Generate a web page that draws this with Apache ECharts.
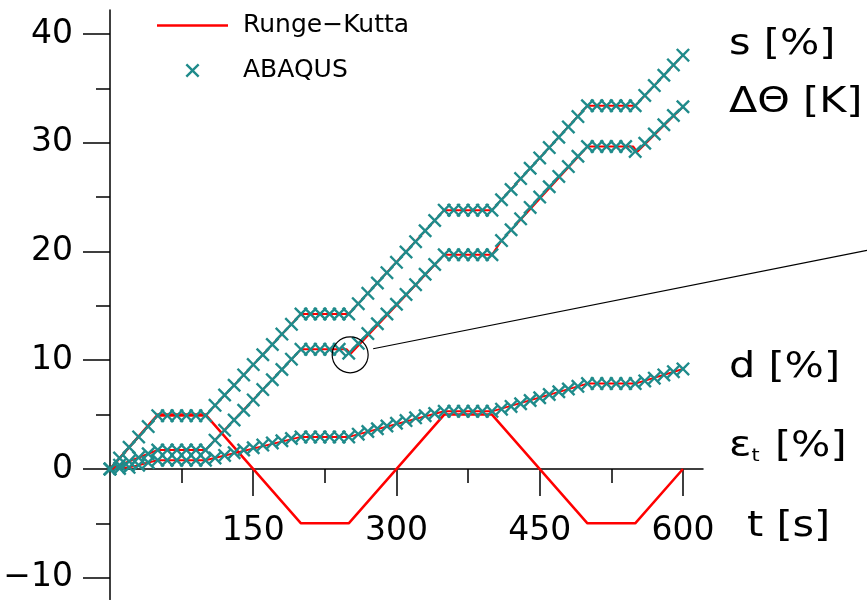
<!DOCTYPE html>
<html>
<head>
<meta charset="utf-8">
<script src="https://cdn.jsdelivr.net/npm/echarts@6/dist/echarts.min.js"></script>
<style>
  html, body { margin: 0; padding: 0; background: #fff; }
  #chart { width: 867px; height: 600px; }
</style>
</head>
<body>
<div id="chart"></div>
<script>
// Sample times of the ABAQUS solution [s]
const tAbaqus = [0, 10, 20, 30, 40, 50, 60, 70, 80, 90, 100,
  110, 120, 130, 140, 150, 160, 170, 180, 190, 200,
  210, 220, 230, 240, 250, 260, 270, 280, 290, 300,
  310, 320, 330, 340, 350, 360, 370, 380, 390, 400,
  410, 420, 430, 440, 450, 460, 470, 480, 490, 500,
  510, 520, 530, 540, 550, 560, 570, 580, 590, 600];

// s [%] (ABAQUS)
const sAbaqus = [0, 1.0, 2.0, 2.95, 3.9, 4.9, 4.9, 4.9, 4.9, 4.9, 4.9,
  5.85, 6.8, 7.7, 8.65, 9.6, 10.5, 11.45, 12.4, 13.3, 14.25,
  14.25, 14.25, 14.25, 14.25, 14.25, 15.2, 16.15, 17.1, 18.05, 19.0,
  19.95, 20.9, 21.9, 22.85, 23.8, 23.8, 23.8, 23.8, 23.8, 23.8,
  24.75, 25.7, 26.7, 27.65, 28.6, 29.55, 30.5, 31.45, 32.4, 33.4,
  33.4, 33.4, 33.4, 33.4, 33.4, 34.35, 35.25, 36.2, 37.15, 38.05];

// ΔΘ [K] (ABAQUS)
const thetaAbaqus = [0, 0.35, 0.7, 1.05, 1.4, 1.75, 1.75, 1.75, 1.75, 1.75, 1.75,
  2.65, 3.55, 4.5, 5.4, 6.35, 7.3, 8.2, 9.15, 10.1, 11.0,
  11.0, 11.0, 11.0, 11.0, 10.65, 11.55, 12.45, 13.35, 14.25, 15.15,
  16.05, 16.95, 17.9, 18.8, 19.7, 19.7, 19.7, 19.7, 19.7, 19.7,
  21.0, 22.0, 23.0, 24.05, 25.0, 25.95, 26.9, 27.8, 28.75, 29.65,
  29.65, 29.65, 29.65, 29.65, 29.2, 29.95, 30.8, 31.65, 32.5, 33.3];

// d [%] (ABAQUS)
const dAbaqus = [0, 0.05, 0.15, 0.35, 0.6, 0.8, 0.8, 0.8, 0.8, 0.8, 0.8,
  1.02, 1.25, 1.5, 1.75, 1.95, 2.2, 2.4, 2.6, 2.8, 2.95,
  2.95, 2.95, 2.95, 2.95, 2.95, 3.2, 3.45, 3.7, 3.95, 4.2,
  4.45, 4.7, 4.9, 5.1, 5.3, 5.3, 5.3, 5.3, 5.3, 5.3,
  5.5, 5.75, 6.0, 6.3, 6.55, 6.85, 7.1, 7.35, 7.6, 7.85,
  7.85, 7.85, 7.85, 7.85, 7.85, 8.1, 8.35, 8.65, 8.95, 9.2];

// Runge-Kutta solution, given at its break points
const epsTime = [0, 50, 100, 200, 250, 350, 400, 500, 550, 600];
const epsRk   = [0, 5, 5, -5, -5, 5, 5, -5, -5, 0];
const sRkTime = [0, 50, 100, 200, 250, 350, 400, 500, 550, 600];
const sRk     = [0, 4.9, 4.9, 14.25, 14.25, 23.8, 23.8, 33.4, 33.4, 38.05];
const thetaRkTime = [0, 50, 100, 200, 248, 252, 350, 400, 410, 500, 548, 552, 600];
const thetaRk     = [0, 1.75, 1.75, 11.0, 11.0, 10.6, 19.7, 19.7, 21.0, 29.65, 29.65, 29.15, 33.3];
const dRkTime = [0, 10, 20, 30, 40, 50, 100, 200, 250, 350, 400, 500, 550, 600];
const dRk     = [0, 0.05, 0.15, 0.35, 0.6, 0.8, 0.8, 2.95, 2.95, 5.3, 5.3, 7.85, 7.85, 9.2];

// Axis ticks
const xTicks = [150, 300, 450, 600];
const xMinorTicks = [75, 225, 375, 525];
const yTicks = [-10, 0, 10, 20, 30, 40];
const yMinorTicks = [-5, 5, 15, 25, 35];

// Value ranges of the plot area
const xMin = 0, xMax = 621;
const yMin = -12, yMax = 42.2;

const RED = '#ff0000';
const TEAL = '#1f8b8b';
const FONT = 'DejaVu Sans';
const CROSS = 'path://M0,12L12,0L50,38L88,0L100,12L62,50L100,88L88,100L50,62L12,100L0,88L38,50Z';
const DASH = 'path://M0,0L71,0L71,2.5L0,2.5Z';

// Plot area in pixels
const GRID = { left: 110, top: 10, width: 593, height: 589.5 };
// The time axis sits on the zero line, so shift it up from the bottom edge of the plot area
const xAxisShift = -GRID.height * (0 - yMin) / (yMax - yMin);

const zip = (ts, vs) => ts.map((t, i) => [t, vs[i]]);

const rkSeries = (data, width) => ({
  type: 'line', name: 'Runge−Kutta', data,
  symbol: 'none', showSymbol: false,
  lineStyle: { color: RED, width }, itemStyle: { color: RED },
  z: 2, silent: true
});
const abaqusSeries = (data) => ({
  type: 'scatter', name: 'ABAQUS', data,
  symbol: CROSS, symbolSize: 14,
  itemStyle: { color: TEAL, opacity: 1 },
  z: 3, silent: true
});

const axisLineStyle = { color: '#000', width: 1.5 };
const chart = echarts.init(document.getElementById('chart'), null, { renderer: 'canvas' });

chart.setOption({
  animation: false,
  backgroundColor: '#fff',
  grid: Object.assign({ outerBoundsMode: 'none', containLabel: false }, GRID),
  legend: {
    orient: 'vertical', left: 152, top: 8,
    itemWidth: 71, itemHeight: 14, itemGap: 20,
    symbolKeepAspect: true,
    textStyle: { fontFamily: FONT, fontSize: 25, color: '#000', padding: [0, 0, 0, 10] },
    data: [{ name: 'Runge−Kutta', icon: DASH }, { name: 'ABAQUS', icon: CROSS }]
  },
  xAxis: [{
    type: 'value', min: xMin, max: xMax, position: 'bottom', offset: xAxisShift,
    axisLine: { onZero: false, lineStyle: axisLineStyle },
    axisTick: { show: true, length: 27, customValues: xTicks, lineStyle: axisLineStyle },
    axisLabel: { customValues: xTicks, margin: 46, fontFamily: FONT, fontSize: 33, color: '#000' },
    splitLine: { show: false }
  }, {
    type: 'value', min: xMin, max: xMax, position: 'bottom', offset: xAxisShift,
    axisLine: { show: false, onZero: false },
    axisTick: { show: true, length: 14, customValues: xMinorTicks, lineStyle: axisLineStyle },
    axisLabel: { show: false },
    splitLine: { show: false }
  }],
  yAxis: [{
    type: 'value', min: yMin, max: yMax,
    axisLine: { show: true, onZero: false, lineStyle: axisLineStyle },
    axisTick: { show: true, length: 27, customValues: yTicks, lineStyle: axisLineStyle },
    axisLabel: {
      customValues: yTicks, margin: 37, fontFamily: FONT, fontSize: 33, color: '#000',
      formatter: v => (v < 0 ? '−' + Math.abs(v) : String(v))
    },
    splitLine: { show: false }
  }, {
    type: 'value', min: yMin, max: yMax, position: 'left',
    axisLine: { show: false, onZero: false },
    axisTick: { show: true, length: 14, customValues: yMinorTicks, lineStyle: axisLineStyle },
    axisLabel: { show: false },
    splitLine: { show: false }
  }],
  series: [
    rkSeries(zip(epsTime, epsRk), 2.5),
    rkSeries(zip(dRkTime, dRk), 2),
    rkSeries(zip(thetaRkTime, thetaRk), 2),
    rkSeries(zip(sRkTime, sRk), 2),
    abaqusSeries(zip(tAbaqus, dAbaqus)),
    abaqusSeries(zip(tAbaqus, thetaAbaqus)),
    abaqusSeries(zip(tAbaqus, sAbaqus))
  ]
});

// Quantity labels on the right and the magnifier mark at the ΔΘ dip
const center = chart.convertToPixel({ gridIndex: 0 }, [251.5, 10.5]);
const lineEnd = chart.convertToPixel({ gridIndex: 0 }, [792.7, 20.1]);
const big = '36px "DejaVu Sans"';
const WIDEN = 1.15;
const quantityLabel = (text, x, y) => ({
  type: 'text', x, y, scaleX: WIDEN,
  style: { text, font: big, fill: '#000', verticalAlign: 'middle' }
});

chart.setOption({
  graphic: [
    quantityLabel('s [%]', 729, 45),
    quantityLabel('ΔΘ [K]', 729, 103),
    quantityLabel('d [%]', 729, 368),
    { type: 'text', x: 729, y: 447, scaleX: WIDEN, style: {
        text: '{e|ε}{s|t}{e| [%]}', fill: '#000', verticalAlign: 'middle',
        rich: {
          e: { fontFamily: FONT, fontSize: 36, fill: '#000' },
          s: { fontFamily: FONT, fontSize: 18, fill: '#000', verticalAlign: 'bottom', padding: [0, 2, 0, 0] }
        } } },
    quantityLabel('t [s]', 747, 527),
    { type: 'circle', shape: { cx: center[0], cy: center[1], r: 18 },
      style: { fill: 'none', stroke: '#000', lineWidth: 1.2 }, z: 10 },
    { type: 'line', shape: { x1: center[0] + 23, y1: center[1] - 6, x2: lineEnd[0], y2: lineEnd[1] },
      style: { stroke: '#000', lineWidth: 1.2 }, z: 10 }
  ]
});
</script>
</body>
</html>
